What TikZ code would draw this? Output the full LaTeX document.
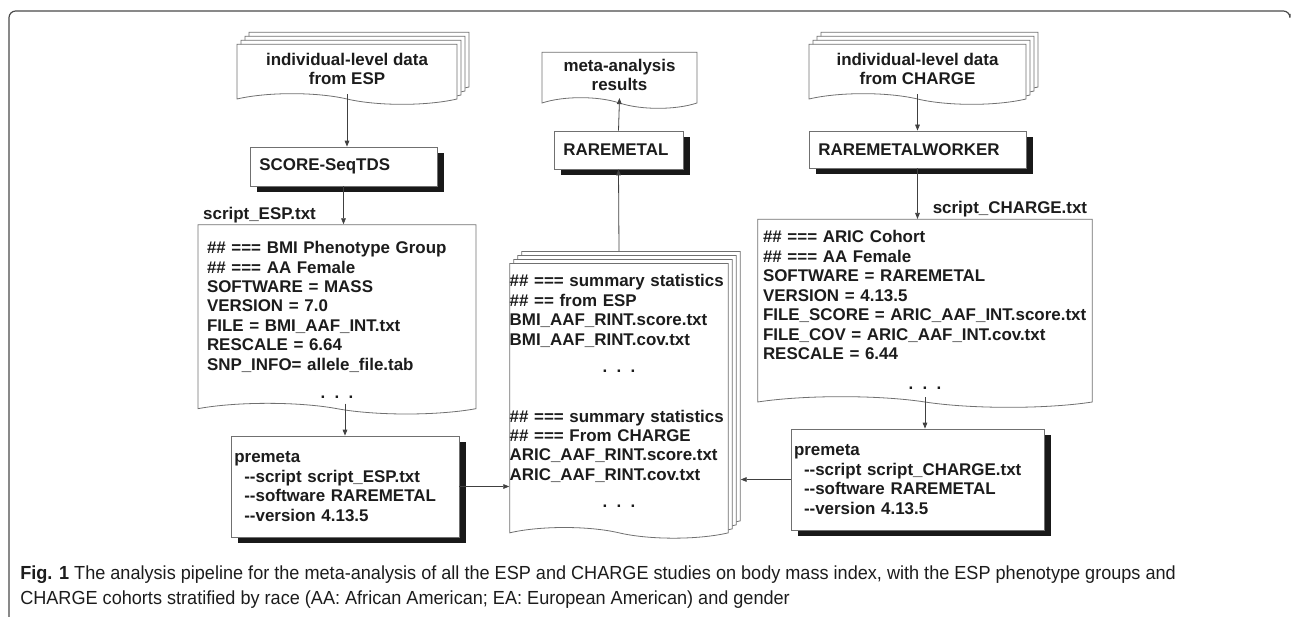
\documentclass[tikz,border=0pt]{standalone}
\usepackage{fontspec}
\setmainfont{Liberation Sans}
\newfontfamily\capfont[FakeStretch=0.956]{Liberation Sans}
\usepackage{xcolor}
\usepackage{tikz}
\usetikzlibrary{arrows.meta, shapes.symbols, shadows, positioning, calc}

\definecolor{edgegray}{HTML}{707070}
\definecolor{inkgray}{HTML}{1C1C1C}
\definecolor{framegray}{HTML}{4A4A4A}

\hyphenpenalty=10000
\newcommand{\mdots}{\makebox[\linewidth]{.\hspace{0.55em}.\hspace{0.55em}.}}
\newcommand{\dd}{-\kern0pt-}

\begin{document}
\begin{tikzpicture}[x=0.75pt, y=-0.75pt,
    every node/.style={font=\fontsize{12.7}{14.6}\selectfont\bfseries, text=inkgray},
    doc/.style={tape, tape bend top=none, tape bend bottom=out and in, tape bend height=8pt,
        draw=edgegray, fill=white, line width=0.6pt},
    sheets/.style={copy shadow={shadow xshift=9pt, shadow yshift=9pt, draw=edgegray, fill=white, line width=0.6pt},
        copy shadow={shadow xshift=6pt, shadow yshift=6pt, draw=edgegray, fill=white, line width=0.6pt},
        copy shadow={shadow xshift=3pt, shadow yshift=3pt, draw=edgegray, fill=white, line width=0.6pt}},
    prog/.style={rectangle, draw=edgegray, fill=white, line width=0.6pt, align=left, inner xsep=7pt,
        text width=#1, drop shadow={shadow xshift=5.2pt, shadow yshift=-4.6pt, fill=black!90, opacity=1}},
    flow/.style={-{Triangle[length=4.5pt, width=3.5pt]}, draw=black!75, line width=0.6pt}]

    \useasboundingbox (0,0) rectangle (1293,617);

    \node[doc, sheets, minimum width=165pt, minimum height=45pt, align=center] (dataE) at (347,69) {individual-level data\\from ESP};
    \node[prog=126.25pt, minimum height=29.25pt] (scoreE) at (343.5,166.5) {SCORE-SeqTDS};
    \node[doc, text width=195pt, inner xsep=6.75pt, minimum height=142pt, align=left] (scriptE) at (337,314) {%
        \rule{0pt}{18pt}\#\# === BMI Phenotype Group\\
        \#\# === AA Female\\
        SOFTWARE = MASS\\
        VERSION = 7.0\\
        FILE = BMI\_AAF\_INT.txt\\
        RESCALE = 6.64\\
        SNP\_INFO= allele\_file.tab\\[6.5pt]
        \mdots};
    \node[anchor=south west, inner sep=1pt] (nameE) at ([xshift=3pt]scriptE.north west) {script\_ESP.txt};
    \node[prog=166pt, inner xsep=2.5pt, minimum height=75.75pt] (premE) at (345,486.5) {%
        premeta\\
        \hspace*{7.5pt}\dd script script\_ESP.txt\\
        \hspace*{7.5pt}\dd software RAREMETAL\\
        \hspace*{7.5pt}\dd version 4.13.5};

    \node[doc, sheets, text width=164pt, inner xsep=0pt, minimum height=206pt, align=left] (mid) at (619,395.5) {%
        \#\# === summary statistics\\
        \#\# == from ESP\\
        BMI\_AAF\_RINT.score.txt\\
        BMI\_AAF\_RINT.cov.txt\\[6pt]
        \mdots\\[22.5pt]
        \#\# === summary statistics\\
        \#\# === From CHARGE\\
        ARIC\_AAF\_RINT.score.txt\\
        ARIC\_AAF\_RINT.cov.txt\\[5.5pt]
        \mdots\rule[-7pt]{0pt}{0pt}};
    \node[prog=82.75pt, minimum height=28.5pt] (rm) at (618.5,150) {RAREMETAL};
    \node[doc, minimum width=116.25pt, minimum height=42pt, align=center] (meta) at (619.5,75) {meta-analysis\\results};

    \node[doc, sheets, minimum width=162.75pt, minimum height=45pt, align=center] (dataC) at (917.5,69) {individual-level data\\from CHARGE};
    \node[prog=148.75pt, minimum height=27.75pt] (rmw) at (917.5,149.5) {RAREMETALWORKER};
    \node[doc, text width=243pt, inner xsep=4pt, minimum height=141pt, align=left] (scriptC) at (925,308) {%
        \rule{0pt}{12.5pt}\#\# === ARIC Cohort\\
        \#\# === AA Female\\
        SOFTWARE = RAREMETAL\\
        VERSION = 4.13.5\\
        FILE\_SCORE = ARIC\_AAF\_INT.score.txt\\
        FILE\_COV = ARIC\_AAF\_INT.cov.txt\\
        RESCALE = 6.44\\[8pt]
        \mdots};
    \node[anchor=south east, inner sep=1pt] (nameC) at ([xshift=-3pt]scriptC.north east) {script\_CHARGE.txt};
    \node[prog=185.25pt, inner xsep=2.25pt, minimum height=75.75pt] (premC) at (917.5,479.5) {%
        premeta\\
        \hspace*{7.5pt}\dd script script\_CHARGE.txt\\
        \hspace*{7.5pt}\dd software RAREMETAL\\
        \hspace*{7.5pt}\dd version 4.13.5};

    \draw[flow] (dataE.south) -- (dataE.south |- scoreE.north);
    \draw[flow] (scoreE.south) -- (scoreE.south |- scriptE.north);
    \draw[flow] (premE.north |- scriptE.south) -- (premE.north);
    \draw[flow] (premE.east) -- (premE.east -| mid.west);
    \coordinate (midT) at ([yshift=9pt]mid.north);
    \draw[flow] (midT) -- (rm.south);
    \draw[flow] (rm.north) -- (meta.south);
    \draw[flow] (dataC.south) -- (rmw.north);
    \draw[flow] (rmw.south) -- (rmw.south |- scriptC.north);
    \draw[flow] (scriptC.south) -- (scriptC.south |- premC.north);
    \coordinate (midR) at ([xshift=9pt]mid.east);
    \draw[flow] (premC.west) -- (premC.west -| midR);

    \draw[framegray, line width=0.9pt, rounded corners=5pt] (9,617) -- (9,11) -- (1290,11) -- (1290,14);
    \node[anchor=north west, inner sep=0pt, align=left, font=\capfont\fontsize{14.2}{18.75}\selectfont, text=inkgray] (cap) at (20,566)
        {\textbf{Fig. 1} The analysis pipeline for the meta-analysis of all the ESP and CHARGE studies on body mass index, with the ESP phenotype groups and\\
        CHARGE cohorts stratified by race (AA: African American; EA: European American) and gender};

\end{tikzpicture}
\end{document}
